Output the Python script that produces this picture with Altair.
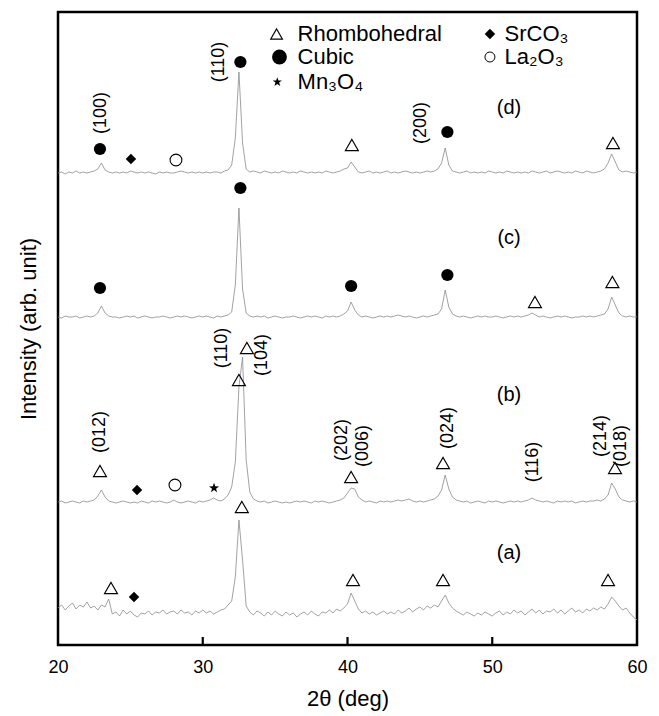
import altair as alt
import pandas as pd

FONT = "Liberation Sans"

# ---------------- data ----------------
step = 0.25
two_theta = [20 + step * i for i in range(161)]

trace_names = ["a", "b", "c", "d"]
trace_offsets = [0, 110, 295, 439]

raw_a = [24, 27, 22, 26, 29, 23, 27, 25, 30, 24, 26, 22, 27, 25, 33, 18,
         20, 16, 22, 18, 21, 17, 15, 19, 18, 21, 17, 20, 19, 22, 18, 20,
         21, 18, 22, 19, 20, 17, 21, 19, 22, 19, 21, 18, 20, 22, 23, 27,
         31, 55, 112, 72, 26, 20, 17, 21, 19, 16, 20, 17, 21, 18, 16, 20,
         17, 19, 15, 18, 20, 17, 21, 18, 16, 20, 19, 22, 19, 23, 21, 24,
         28, 39, 31, 23, 19, 21, 18, 20, 17, 19, 21, 18, 20, 18, 22, 19,
         21, 24, 20, 23, 25, 22, 26, 24, 27, 25, 31, 37, 29, 24, 21, 19,
         17, 20, 18, 16, 19, 17, 20, 18, 16, 19, 21, 17, 20, 18, 22, 19,
         21, 17, 20, 23, 19, 22, 18, 21, 20, 23, 19, 22, 18, 21, 24, 20,
         22, 19, 23, 21, 24, 22, 25, 23, 28, 35, 31, 26, 22, 24, 19, 15,
         12]
raw_b = [20, 21, 19, 20, 21, 20, 19, 21, 20, 21, 22, 26, 32, 25, 21, 20,
         19, 20, 21, 20, 19, 20, 19, 21, 20, 19, 21, 20, 21, 20, 19, 20,
         22, 20, 19, 20, 21, 20, 19, 21, 20, 21, 22, 24, 22, 21, 23, 27,
         35, 60, 135, 165, 62, 30, 23, 21, 20, 21, 19, 20, 21, 20, 19, 20,
         19, 20, 21, 20, 21, 20, 19, 21, 20, 21, 20, 19, 20, 21, 22, 24,
         29, 34, 33, 25, 22, 20, 21, 20, 19, 21, 20, 21, 20, 21, 22, 21,
         22, 23, 21, 20, 21, 20, 21, 22, 23, 26, 32, 47, 33, 25, 22, 21,
         20, 21, 19, 20, 21, 20, 19, 21, 20, 21, 20, 19, 20, 21, 20, 21,
         20, 21, 22, 24, 22, 21, 20, 21, 20, 19, 21, 20, 21, 20, 21, 19,
         20, 21, 20, 21, 21, 22, 21, 23, 27, 39, 33, 25, 22, 21, 20, 21,
         20]
raw_c = [20, 19, 21, 20, 20, 21, 19, 20, 21, 20, 21, 24, 31, 24, 21, 20,
         20, 19, 20, 21, 20, 21, 19, 20, 21, 20, 19, 20, 20, 21, 20, 19,
         20, 21, 20, 21, 20, 19, 20, 21, 20, 21, 20, 19, 21, 20, 21, 22,
         25, 52, 129, 48, 24, 21, 20, 21, 20, 21, 19, 20, 21, 20, 19, 20,
         20, 21, 20, 19, 20, 21, 20, 21, 20, 19, 21, 20, 21, 20, 21, 23,
         26, 35, 27, 22, 20, 21, 20, 19, 20, 21, 20, 21, 20, 21, 22, 21,
         20, 21, 20, 19, 20, 21, 20, 21, 22, 23, 28, 47, 30, 23, 21, 20,
         21, 20, 19, 20, 21, 20, 21, 20, 20, 21, 20, 19, 20, 21, 20, 21,
         20, 21, 22, 24, 22, 20, 21, 20, 19, 20, 21, 20, 21, 20, 19, 20,
         20, 21, 20, 21, 20, 21, 22, 23, 28, 40, 32, 24, 21, 20, 21, 20,
         20]
raw_d = [20, 21, 19, 21, 20, 22, 20, 21, 20, 21, 22, 24, 30, 23, 21, 20,
         21, 20, 21, 20, 22, 21, 20, 21, 20, 21, 20, 19, 21, 20, 21, 20,
         20, 21, 22, 21, 20, 21, 20, 21, 20, 21, 20, 21, 21, 20, 22, 23,
         28, 55, 121, 50, 24, 21, 22, 21, 20, 22, 21, 20, 21, 20, 22, 21,
         20, 21, 20, 22, 21, 20, 21, 20, 21, 20, 22, 21, 20, 21, 22, 24,
         25, 31, 26, 21, 20, 21, 22, 20, 21, 20, 21, 22, 20, 21, 20, 21,
         22, 21, 20, 21, 20, 21, 22, 21, 22, 24, 30, 45, 28, 22, 21, 20,
         21, 22, 20, 21, 20, 21, 20, 22, 21, 20, 21, 20, 22, 21, 20, 21,
         20, 21, 20, 22, 21, 20, 21, 22, 20, 21, 22, 21, 20, 21, 20, 22,
         21, 20, 22, 21, 20, 21, 22, 24, 30, 39, 31, 23, 21, 22, 21, 20,
         21]

# markers (2theta, intensity in the stacked units)
tri_x = [23.66, 32.7, 40.38, 46.6, 58.0,
         22.9, 32.5, 33.05, 40.25, 46.6, 58.48,
         52.95, 58.3,
         40.3, 58.34]
tri_y = [44, 125, 52, 52, 52,
         161, 252, 284, 155, 169, 164,
         330, 350,
         487, 489]
cub_x = [22.9, 32.6, 46.9, 22.9, 32.6, 40.25, 46.9]
cub_y = [483, 570, 500, 344, 444, 346, 357]
srco3_x = [25.25, 25.46, 25.04]
srco3_y = [35, 142, 473]
la2o3_x = [28.08, 28.15]
la2o3_y = [147, 472]
mn3o4_x = [30.78]
mn3o4_y = [144]

# Miller index labels
hkl_text = ["(100)", "(110)", "(200)", "(012)", "(110)", "(104)",
            "(202)", "(006)", "(024)", "(116)", "(214)", "(018)"]
hkl_x = [23.0, 31.1, 45.08, 22.9, 31.33, 34.1, 39.6, 41.07, 46.94, 52.8, 57.5, 58.9]
hkl_y = [519, 570, 509, 200, 284, 277, 192, 186, 204, 170, 196, 186]

# panel labels
panel_text = ["(a)", "(b)", "(c)", "(d)"]
panel_x = [51.16, 51.16, 51.16, 51.16]
panel_y = [79, 237, 394, 524]

# legend
leg_sym_x = [35.1, 35.3, 35.15, 49.84, 49.84]
leg_sym_y = [598, 575, 550, 598, 575]
leg_text = ["Rhombohedral", "Cubic", "Mn\u2083O\u2084", "SrCO\u2083", "La\u2082O\u2083"]
leg_text_x = [36.55, 36.55, 36.55, 50.85, 50.85]
leg_text_y = [598, 575, 550, 598, 575]

x_ticks = [20, 30, 40, 50, 60]
inner_ticks = [30, 40, 50]

STAR = ("M0,-1L0.235,-0.324L0.951,-0.309L0.38,0.124L0.588,0.809L0,0.4"
        "L-0.588,0.809L-0.38,0.124L-0.951,-0.309L-0.235,-0.324Z")

# ---------------- tables ----------------
rows = []
for name, off, raw in zip(trace_names, trace_offsets, [raw_a, raw_b, raw_c, raw_d]):
    for t, v in zip(two_theta, raw):
        rows.append({"trace": name, "two_theta": t, "intensity": v + off})
df = pd.DataFrame(rows)

W, H = 579, 633
xs = alt.Scale(domain=[20, 60], nice=False, zero=False)
ys = alt.Scale(domain=[-13, 620], nice=False, zero=False)

x_axis = alt.Axis(values=x_ticks, title="2θ (deg)", ticks=False, domain=False,
                  grid=False, labelFontSize=18, labelFont=FONT, labelColor="black",
                  labelPadding=13, labelFlush=False, titleFont=FONT, titleFontSize=22,
                  titleFontWeight="normal", titleColor="black", titlePadding=12,
                  format="d")
y_axis = alt.Axis(title="Intensity (arb. unit)", labels=False, ticks=False,
                  domain=False, grid=False, titleFont=FONT, titleFontSize=22,
                  titleFontWeight="normal", titleColor="black", titlePadding=18)


def X(field="x"):
    return alt.X(f"{field}:Q", scale=xs, axis=x_axis)


def Y(field="y"):
    return alt.Y(f"{field}:Q", scale=ys, axis=y_axis)


lines = alt.Chart(df).mark_line(color="#8a8a8a", strokeWidth=0.8).encode(
    x=X("two_theta"), y=Y("intensity"), detail="trace:N")


def pts(xv, yv, **kw):
    d = pd.DataFrame({"x": xv, "y": yv})
    return alt.Chart(d).mark_point(color="black", opacity=1, **kw).encode(x=X(), y=Y())


tri = pts(tri_x, tri_y, shape="triangle-up", filled=False, size=170, strokeWidth=1.1)
cub = pts(cub_x, cub_y, shape="circle", filled=True, size=150)
dia = pts(srco3_x, srco3_y, shape="diamond", filled=True, size=110)
opc = pts(la2o3_x, la2o3_y, shape="circle", filled=False, size=140, strokeWidth=1.1)
sta = pts(mn3o4_x, mn3o4_y, shape=STAR, filled=True, size=110)

# legend symbols
lt = pts([leg_sym_x[0]], [leg_sym_y[0]], shape="triangle-up", filled=False, size=140, strokeWidth=1.1)
lc = pts([leg_sym_x[1]], [leg_sym_y[1]], shape="circle", filled=True, size=220)
ls = pts([leg_sym_x[2]], [leg_sym_y[2]], shape=STAR, filled=True, size=95)
ld = pts([leg_sym_x[3]], [leg_sym_y[3]], shape="diamond", filled=True, size=110)
lo = pts([leg_sym_x[4]], [leg_sym_y[4]], shape="circle", filled=False, size=100, strokeWidth=1.0)

leg_df = pd.DataFrame({"x": leg_text_x, "y": leg_text_y, "t": leg_text})
leg_txt = alt.Chart(leg_df).mark_text(align="left", baseline="middle", fontSize=22,
                                      font=FONT, color="black").encode(x=X(), y=Y(), text="t:N")

hkl_df = pd.DataFrame({"x": hkl_x, "y": hkl_y, "t": hkl_text})
hkl = alt.Chart(hkl_df).mark_text(angle=270, align="center", baseline="middle", fontSize=18,
                                  font=FONT, color="black").encode(x=X(), y=Y(), text="t:N")

pan_df = pd.DataFrame({"x": panel_x, "y": panel_y, "t": panel_text})
pan = alt.Chart(pan_df).mark_text(align="center", baseline="middle", fontSize=20,
                                  font=FONT, color="black").encode(x=X(), y=Y(), text="t:N")

tick_df = pd.DataFrame({"x": inner_ticks})
ticks = alt.Chart(tick_df).mark_rule(color="black", strokeWidth=2.2).encode(
    x=X(), y=alt.value(H), y2=alt.value(H - 8))

chart = alt.layer(lines, tri, cub, dia, opc, sta, lt, lc, ls, ld, lo,
                  leg_txt, hkl, pan, ticks).properties(
    width=W, height=H,
    autosize=alt.AutoSizeParams(type="none"),
    padding={"left": 58, "top": 12, "right": 22, "bottom": 716 - 12 - H},
    background="white",
).configure_view(stroke="black", strokeWidth=2.5)

chart.save("out.html", embed_options={"renderer": "svg", "actions": False})
